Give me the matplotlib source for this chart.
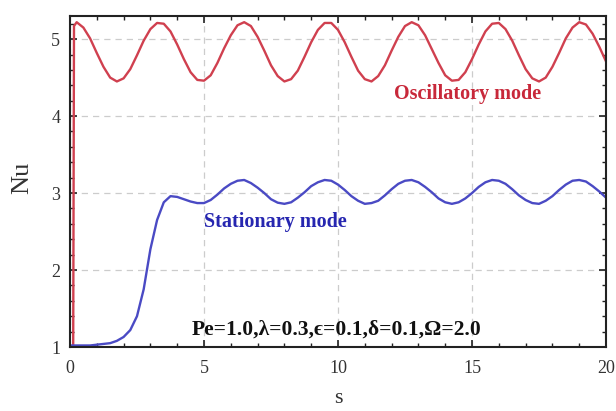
import numpy as np
import matplotlib
matplotlib.use("Agg")
import matplotlib.pyplot as plt
from matplotlib.ticker import MultipleLocator

# ---- data ----
osc_s = [0.12, 0.15] + [0.25 * k for k in range(1, 81)]
osc_nu = [1.00, 5.17,
          5.22, 5.15, 5.01, 4.82, 4.64, 4.50, 4.45, 4.49, 4.61, 4.79,
          4.98, 5.13, 5.21, 5.20, 5.10, 4.93, 4.74, 4.57, 4.47, 4.46,
          4.53, 4.69, 4.88, 5.05, 5.18, 5.22, 5.17, 5.03, 4.85, 4.66,
          4.52, 4.45, 4.48, 4.59, 4.77, 4.96, 5.12, 5.21, 5.21, 5.12,
          4.96, 4.77, 4.59, 4.48, 4.45, 4.52, 4.66, 4.85, 5.03, 5.17,
          5.22, 5.18, 5.05, 4.87, 4.69, 4.53, 4.46, 4.47, 4.57, 4.74,
          4.93, 5.10, 5.20, 5.21, 5.13, 4.98, 4.79, 4.61, 4.49, 4.45,
          4.50, 4.64, 4.82, 5.01, 5.15, 5.22, 5.19, 5.07, 4.90, 4.71]

sta_s = [0.25 * k for k in range(0, 81)]
sta_nu = [1.02, 1.02, 1.02, 1.02, 1.03, 1.04, 1.05, 1.08, 1.13, 1.22,
          1.40, 1.75, 2.27, 2.65, 2.88, 2.96, 2.95, 2.92, 2.89, 2.87,
          2.87, 2.91, 2.98, 3.06, 3.12, 3.16, 3.17, 3.13, 3.07, 3.00,
          2.92, 2.875, 2.86, 2.88, 2.94, 3.01, 3.09, 3.14, 3.17, 3.16,
          3.11, 3.04, 2.96, 2.90, 2.86, 2.87, 2.90, 2.97, 3.05, 3.12,
          3.16, 3.17, 3.14, 3.08, 3.01, 2.93, 2.88, 2.86, 2.88, 2.93,
          3.00, 3.08, 3.14, 3.17, 3.16, 3.12, 3.05, 2.97, 2.91, 2.87,
          2.86, 2.90, 2.96, 3.04, 3.11, 3.16, 3.17, 3.15, 3.09, 3.02, 2.94]

x_ticks = [0, 5, 10, 15, 20]
y_ticks = [1, 2, 3, 4, 5]
param_text = "Pe=1.0,λ=0.3,ϵ=0.1,δ=0.1,Ω=2.0"

serif = ["Liberation Serif", "DejaVu Serif"]

fig = plt.figure(figsize=(6.16, 4.11), dpi=100)
ax = fig.add_axes([0.1136, 0.1557, 0.8702, 0.8053])

ax.plot(osc_s, osc_nu, color="#d0404f", lw=1.7)
ax.plot(sta_s, sta_nu, color="#4a4ac4", lw=1.7)

ax.set_xlim(0, 20)
ax.set_ylim(1, 5.3)
ax.set_xticks(x_ticks)
ax.set_yticks(y_ticks)
ax.xaxis.set_minor_locator(MultipleLocator(1))
ax.yaxis.set_minor_locator(MultipleLocator(0.2))
ax.tick_params(which="both", direction="in", top=True, right=True, colors="#222222")
ax.tick_params(which="major", length=5, width=1.2, labelsize=13)
ax.tick_params(axis="x", which="major", pad=9)
ax.tick_params(axis="y", which="major", pad=7)
ax.tick_params(which="minor", length=3, width=1.0)
for lab in ax.get_xticklabels() + ax.get_yticklabels():
    lab.set_family(serif)
    lab.set_color("#333333")
for sp in ax.spines.values():
    sp.set_linewidth(1.5)
    sp.set_color("#222222")

ax.grid(True, which="major", linestyle=(0, (5, 4)), color="#cccccc", lw=0.9)

ax.set_xlabel("s", family=serif, fontsize=16, color="#333333")
ax.set_ylabel("Nu", family=serif, fontsize=19, color="#333333")
ax.xaxis.set_label_coords(0.5, -0.128)
ax.yaxis.set_label_coords(-0.068, 0.51)

ax.text(14.85, 4.29, "Oscillatory mode", color="#c8283a", fontsize=14.5,
        fontweight="bold", family=serif, ha="center", va="center")
ax.text(7.65, 2.62, "Stationary mode", color="#2626b0", fontsize=14.5,
        fontweight="bold", family=serif, ha="center", va="center")
ax.text(9.93, 1.22, param_text, color="#111111", fontsize=15.5,
        fontweight="bold", family=serif, ha="center", va="center")

fig.savefig("out.png", dpi=100)
